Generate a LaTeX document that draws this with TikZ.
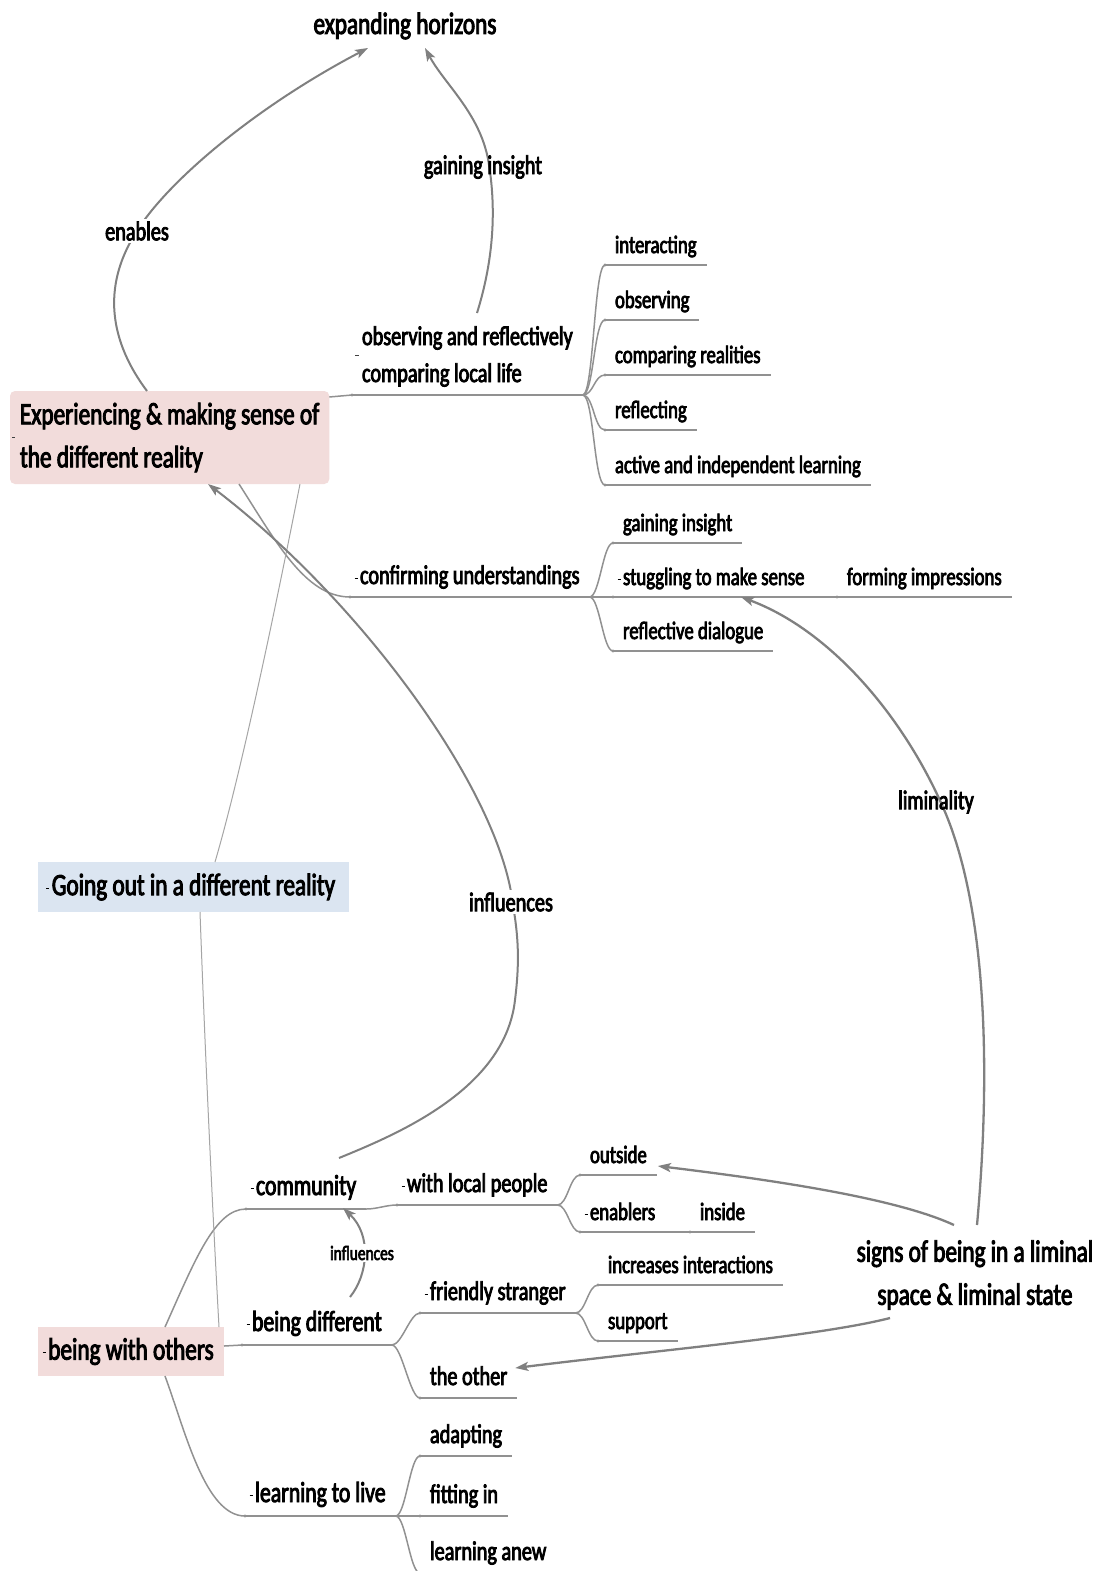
\documentclass[tikz,border=0pt]{standalone}
\usepackage{fontspec}
\setmainfont{Carlito}[FakeStretch=0.75,FakeBold=3]
\usetikzlibrary{arrows.meta,calc}
\definecolor{linegray}{RGB}{128,128,128}
\definecolor{branchgray}{RGB}{145,145,145}
\definecolor{thingray}{RGB}{165,165,165}
\definecolor{pinkfill}{RGB}{242,220,219}
\definecolor{bluefill}{RGB}{219,229,241}
% small collapse marker printed left of a topic's text
\newcommand\dsh{\llap{\rule[0.42ex]{3pt}{0.9pt}\hspace{2.5pt}}}

\begin{document}
\begin{tikzpicture}[x=1pt,y=-1pt,
  fbig/.style={font=\fontsize{31}{43}\selectfont},
  fmed/.style={font=\fontsize{29}{36}\selectfont},
  fsub/.style={font=\fontsize{27}{37}\selectfont},
  fleaf/.style={font=\fontsize{25}{30}\selectfont},
  fsmall/.style={font=\fontsize{20.5}{24}\selectfont},
  topic/.style={anchor=south west, inner xsep=10pt, text depth=0pt, outer sep=0pt},
  tmed/.style={topic, fmed, inner ysep=14pt},
  tsub/.style={topic, fsub, inner ysep=13pt},
  tleaf/.style={topic, fleaf, inner ysep=12pt},
  mainbox/.style={fbig, anchor=north west, align=left, inner xsep=10pt, outer sep=0pt},
  branch/.style={draw=branchgray, line width=1.5pt},
  thinlink/.style={draw=thingray, line width=1pt},
  relation/.style={draw=linegray, line width=2pt, -{Stealth[length=13pt,width=9pt,inset=3pt]}},
  rlabel/.style={fsub, inner sep=3pt},
  gap/.style={fill=white},
  mk/.style={draw=black!75, line width=0.9pt},
]
\useasboundingbox (0,0) rectangle (1105,1571);
\fill[white] (0,0) rectangle (1105,1571);

% ---------- central topics ----------
\node[fbig, anchor=base] (eh) at (405,34) {expanding horizons};

\node[mainbox, fill=pinkfill, rounded corners=5pt, minimum width=319pt, minimum height=93pt]
  (exp) at (10,391) {Experiencing \& making sense of\\the different reality};

\node[mainbox, fill=bluefill, minimum width=311pt, minimum height=50pt]
  (going) at (38,862) {\dsh Going out in a different reality};

\node[mainbox, fill=pinkfill, minimum width=186pt, minimum height=49pt]
  (bwo) at (38,1327) {\dsh being with others};

\node[fbig, align=center] (signs) at (975,1275) {signs of being in a liminal\\space \& liminal state};

% ---------- sub-topics of the first topic ----------
\node[tsub] (obs) at (352,395) {\begin{tabular}[b]{@{}l@{}}observing and reflectively\\comparing local life\end{tabular}};
\node[tleaf] (o1) at (605,265) {interacting};
\node[tleaf] (o2) at (605,320) {observing};
\node[tleaf] (o3) at (605,375) {comparing realities};
\node[tleaf] (o4) at (605,430) {reflecting};
\node[tleaf] (o5) at (605,485) {active and independent learning};

\node[tsub] (conf) at (350,597) {\dsh confirming understandings};
\node[tleaf] (c1) at (613,543) {gaining insight};
\node[tleaf] (stug) at (613,597) {\dsh stuggling to make sense};
\node[tleaf] (c3) at (613,651) {reflective dialogue};
\node[tleaf] (form) at (837,597) {forming impressions};

% ---------- sub-topics of being with others ----------
\node[tmed] (comm) at (246,1209) {\dsh community};
\node[tsub] (wlp) at (397,1205) {\dsh with local people};
\node[tleaf] (outs) at (580,1175) {outside};
\node[tleaf] (enab) at (580,1232) {\dsh enablers};
\node[tleaf] (ins) at (690,1232) {inside};

\node[tmed] (bdiff) at (242,1345) {\dsh being different};
\node[tsub] (fs) at (420,1313) {\dsh friendly stranger};
\node[tsub] (other) at (420,1398) {the other};
\node[tleaf] (incr) at (598,1285) {increases interactions};
\node[tleaf] (supp) at (598,1341) {support};

\node[tmed] (ltl) at (245,1516) {\dsh learning to live};
\node[tsub] (adap) at (420,1456) {adapting};
\node[tsub] (fit) at (420,1516) {fitting in};
\node[tsub] (anew) at (420,1573) {learning anew};

% ---------- underlines ----------
\foreach \n in {obs,o1,o2,o3,o4,o5,conf,c1,stug,c3,form,comm,wlp,outs,enab,ins,bdiff,fs,other,incr,supp,ltl,adap,fit,anew}
  \draw[branch] (\n.south west) -- (\n.south east);

% ---------- tree branches ----------
\draw[branch] ($(exp.north east)+(0,6)$) -- (obs.south west);
\foreach \c in {o1,o2,o3,o4,o5}
  \draw[branch] (obs.south east) .. controls +(11,0) and +(-11,0) .. (\c.south west);
\draw[branch] ($(exp.south west)+(229,0)$) .. controls (275,540) and (305,597) .. (conf.south west);
\foreach \c in {c1,stug,c3}
  \draw[branch] (conf.south east) .. controls +(10,0) and +(-10,0) .. (\c.south west);
\draw[branch] (stug.south east) -- (form.south west);

\draw[branch] ($(bwo.north west)+(127,0)$) .. controls (195,1260) and (215,1209) .. (comm.south west);
\draw[branch] ($(bwo.north east)+(0,19)$) -- (bdiff.south west);
\draw[branch] ($(bwo.south west)+(127,0)$) .. controls (185,1430) and (205,1516) .. (ltl.south west);

\draw[branch] (comm.south east) .. controls +(11,0) and +(-11,0) .. (wlp.south west);
\foreach \c in {outs,enab}
  \draw[branch] (wlp.south east) .. controls +(10,0) and +(-10,0) .. (\c.south west);
\draw[branch] (enab.south east) -- (ins.south west);
\foreach \c in {fs,other}
  \draw[branch] (bdiff.south east) .. controls +(10,0) and +(-10,0) .. (\c.south west);
\foreach \c in {incr,supp}
  \draw[branch] (fs.south east) .. controls +(10,0) and +(-10,0) .. (\c.south west);
\foreach \c in {adap,fit,anew}
  \draw[branch] (ltl.south east) .. controls +(10,0) and +(-10,0) .. (\c.south west);

% thin links of the blue topic
\draw[thinlink] ($(going.north west)+(177,0)$) .. controls (245,760) and (285,560) .. ($(exp.south west)+(290,0)$);
\draw[thinlink] ($(going.south west)+(162,0)$) .. controls (205,1050) and (212,1200) .. ($(bwo.north west)+(181,0)$);

% knobs at the start of each underline
\foreach \n in {obs,o1,o2,o3,o4,o5,conf,c1,stug,c3,form,comm,wlp,outs,enab,ins,bdiff,fs,other,incr,supp,ltl,adap,fit,anew}
  \fill[branchgray] (\n.south west) circle[radius=1.7pt];

% collapse markers of the two-line topics
\draw[mk] ($(exp.west)+(2,0)$) -- ++(3,0);
\draw[mk] ($(obs.south west)+(3,-40)$) -- ++(3.5,0);

% ---------- relationships ----------
\draw[relation] ($(exp.north west)+(137,0)$) .. controls (105,335) and (105,280) .. (137,231)
   .. controls (165,185) and (250,110) .. ($(eh.base)+(-37,14)$);
\node[rlabel, gap] (lenab) at (137,231) {enables};

\draw[relation] ($(obs.south west)+(125,-82)$) .. controls (492,265) and (497,215) .. (489,165)
   .. controls (482,115) and (445,85) .. ($(eh.base)+(20,14)$);
\node[rlabel] (lgain) at (483,167) {gaining insight};

\draw[relation] ($(comm.south west)+(93,-51)$) .. controls (395,1135) and (505,1090) .. (515,1000)
   .. controls (520,960) and (518,935) .. (513,905)
   .. controls (500,790) and (360,600) .. ($(exp.south west)+(198,0)$);
\node[rlabel, gap] (linf) at (511,902) {influences};

\draw[relation] ($(bdiff.south west)+(108,-48)$) .. controls (368,1275) and (372,1235) .. ($(comm.south west)+(97,-1)$);
\node[fsmall, gap, inner sep=2pt] (lsinf) at (362,1253) {influences};

\draw[relation, line width=2.3pt] ($(signs.center)+(2,-50)$) .. controls (992,1060) and (985,900) .. (942,805)
   .. controls (902,715) and (830,630) .. ($(stug.south west)+(128,0)$);
\node[rlabel] (llim) at (936,802) {liminality};

\draw[relation, line width=2.3pt] ($(signs.center)+(-21,-50)$) .. controls (900,1200) and (790,1182) .. ($(outs.south east)+(1,-9)$);
\draw[relation, line width=2.3pt] ($(signs.center)+(-85,43)$) .. controls (820,1336) and (660,1350) .. ($(other.south east)+(-2,-30)$);
\end{tikzpicture}
\end{document}
